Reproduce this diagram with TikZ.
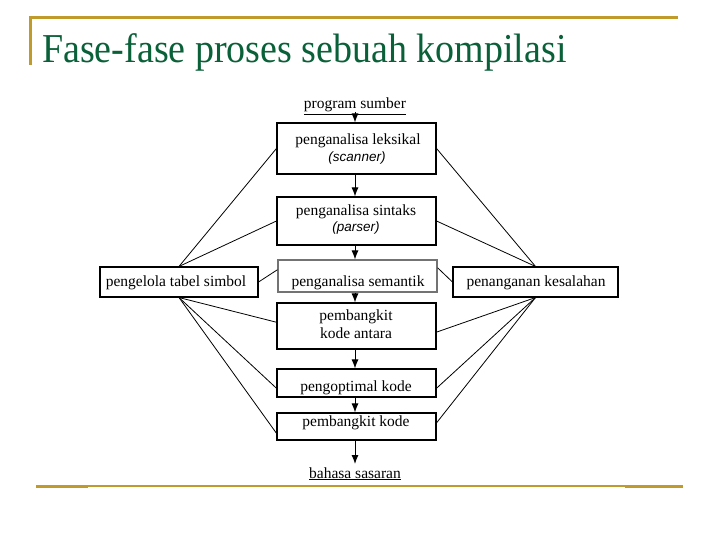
\documentclass[tikz,border=0pt]{standalone}
\usepackage{fontspec}
\setmainfont{Liberation Serif}
\newfontfamily\arialfont{Liberation Sans}
\usetikzlibrary{arrows.meta,calc}
\definecolor{gold}{RGB}{192,154,42}
\definecolor{titlegreen}{RGB}{10,96,56}
\tikzset{
  box/.style={draw=black, line width=1.1pt, rectangle, inner sep=0pt, align=center},
  lbl/.style={anchor=base, inner sep=0pt, font=\fontsize{15.5}{18}\selectfont},
  conn/.style={draw=black, line width=0.8pt},
  flow/.style={draw=black, line width=1pt, -{Latex[length=9pt,width=7pt]}},
  goldline/.style={draw=gold, line width=3pt},
  sub/.style={anchor=base, inner sep=0pt, font=\arialfont\itshape\fontsize{13.5}{16}\selectfont}
}
\begin{document}
\begin{tikzpicture}[x=1pt,y=-1pt]
\useasboundingbox[fill=white] (0,0) rectangle (720,540);
% decorations
\draw[goldline] (30,17.5) -- (678,17.5);
\draw[goldline] (30,16) -- (30,65);
\draw[draw=gold, line width=2pt] (36,486) -- (683,486);
\draw[goldline] (36,486) -- (88,486);
\draw[goldline] (625,486) -- (683,486);
\node[anchor=base west, text=titlegreen, font=\fontsize{38}{44}\selectfont, inner sep=0pt] (title) at (42,62.5) {\scalebox{1}[1.08]{Fase-fase proses sebuah kompilasi}};
% nodes
\node[lbl] (src) at (355,109) {\underline{program sumber}};
\node[box, minimum width=159, minimum height=51] (lex) at (356.5,148.5) {};
\node[lbl] (lext) at (358,145) {penganalisa leksikal};
\node[sub] (lexs) at (357,162) {(scanner)};
\node[box, minimum width=159, minimum height=48] (sin) at (356.5,221) {};
\node[lbl] (sint) at (356,215) {penganalisa sintaks};
\node[sub] (sins) at (356,232) {(parser)};
\node[box, draw=black!55, minimum width=159, minimum height=32] (sem) at (357.5,276) {};
\node[lbl] (semt) at (358,286) {penganalisa semantik};
\node[box, minimum width=159, minimum height=46] (pbk1) at (356.5,326) {};
\node[lbl] (pbk1a) at (356,320) {pembangkit};
\node[lbl] (pbk1b) at (356,338) {kode antara};
\node[box, minimum width=159, minimum height=28] (opt) at (356.5,383) {};
\node[lbl] (optt) at (356,391) {pengoptimal kode};
\node[box, minimum width=159, minimum height=27] (pbk2) at (356.5,426.5) {};
\node[lbl] (pbk2t) at (356,426) {pembangkit kode};
\node[lbl] (dst) at (355,478) {\underline{bahasa sasaran}};
\node[box, minimum width=158, minimum height=30] (sym) at (179,282) {};
\node[lbl] (symt) at (176,286) {pengelola tabel simbol};
\node[box, minimum width=165, minimum height=30] (err) at (535.5,282) {};
\node[lbl] (errt) at (536,286) {penanganan kesalahan};
% flow arrows
\coordinate (s0) at (355,112);
\draw[flow] (s0) -- (lex.north -| s0);
\draw[flow] (lex.south -| s0) -- (sin.north -| s0);
\draw[flow] (sin.south -| s0) -- (sem.north -| s0);
\draw[flow] (sem.south -| s0) -- (pbk1.north -| s0);
\draw[flow] (pbk1.south -| s0) -- (opt.north -| s0);
\draw[flow] (opt.south -| s0) -- (pbk2.north -| s0);
\coordinate (dsttop) at (355,464);
\draw[flow] (pbk2.south -| dsttop) -- (dsttop);
% connectors left
\draw[conn] (sym.north) -- (lex.west);
\draw[conn] (sym.north) -- (sin.west);
\draw[conn] (sym.east) -- ($(sem.north west)!0.31!(sem.south west)$);
\draw[conn] (sym.south) -- ($(pbk1.north west)!0.42!(pbk1.south west)$);
\draw[conn] (sym.south) -- ($(opt.north west)!0.68!(opt.south west)$);
\draw[conn] (sym.south) -- ($(pbk2.north west)!0.74!(pbk2.south west)$);
% connectors right
\draw[conn] (err.north) -- (lex.east);
\draw[conn] (err.north) -- (sin.east);
\draw[conn] (err.west) -- ($(sem.north east)!0.25!(sem.south east)$);
\draw[conn] (err.south) -- ($(pbk1.north east)!0.63!(pbk1.south east)$);
\draw[conn] (err.south) -- ($(opt.north east)!0.68!(opt.south east)$);
\draw[conn] (err.south) -- ($(pbk2.north east)!0.37!(pbk2.south east)$);
\end{tikzpicture}
\end{document}
